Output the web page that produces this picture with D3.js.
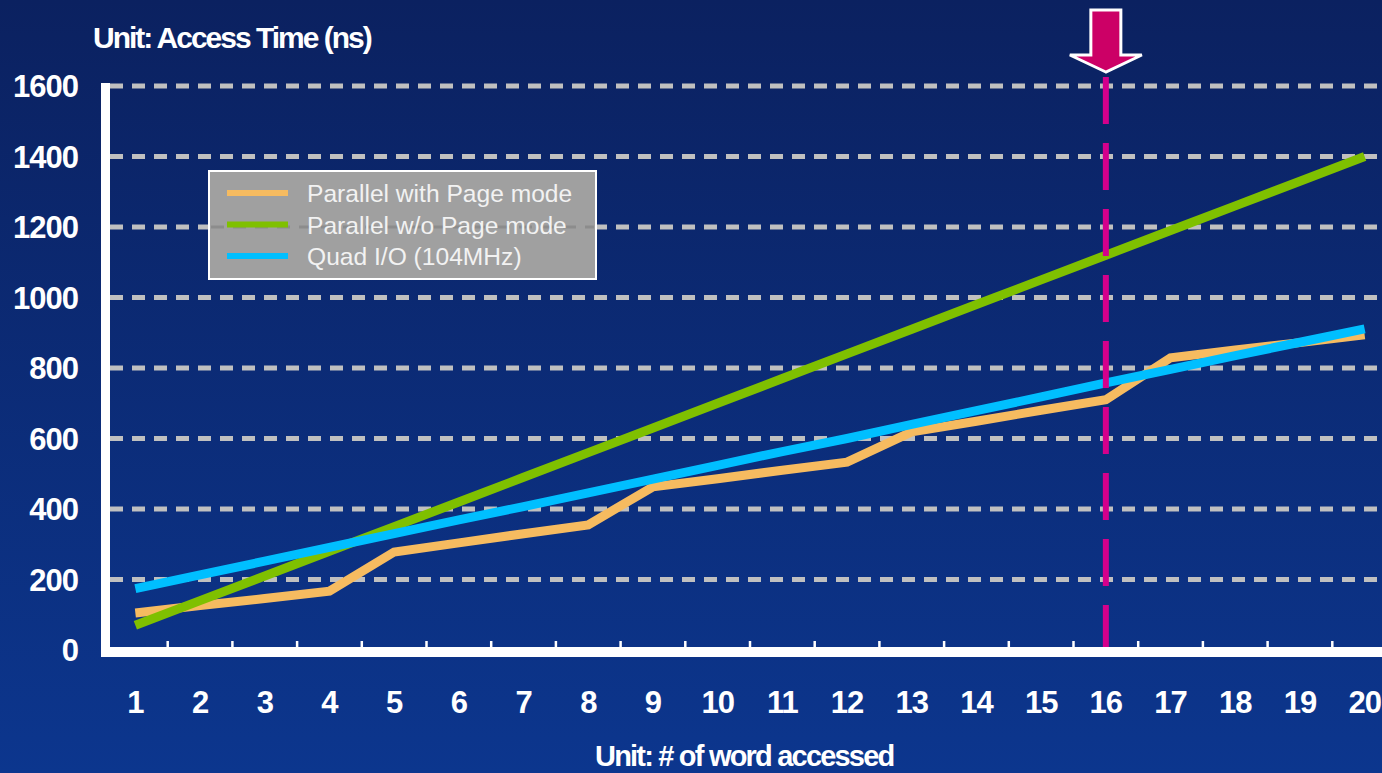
<!DOCTYPE html>
<html>
<head>
<meta charset="utf-8">
<script src="https://cdn.jsdelivr.net/npm/d3@7"></script>
<style>
  html, body { margin: 0; padding: 0; background: #0c2a74; }
  svg { display: block; }
  text { font-family: "Liberation Sans", Arial, sans-serif; }
</style>
</head>
<body>
<script>
// words accessed (x categories)
const categories = [1, 2, 3, 4, 5, 6, 7, 8, 9, 10, 11, 12, 13, 14, 15, 16, 17, 18, 19, 20];
const yTicks = [0, 200, 400, 600, 800, 1000, 1200, 1400, 1600];

// access time in ns
const parallelPage = [105, 126, 146, 167, 278, 304, 330, 355, 463, 486, 510, 533, 619, 649, 680, 710, 829, 851, 872, 894];
const parallelNoPage = [70, 140, 210, 280, 350, 420, 490, 560, 630, 700, 770, 840, 910, 980, 1050, 1120, 1190, 1260, 1330, 1400];
const quadIO = [174, 213, 252, 291, 330, 369, 407, 446, 485, 524, 563, 600, 640, 679, 718, 758, 796, 835, 873, 911];

const seriesNames = ["Parallel with Page mode", "Parallel w/o Page mode", "Quad I/O (104MHz)"];
const seriesColors = ["#f6bb60", "#7fc000", "#00bfff"];
const markedCategory = 16;

const W = 1382, H = 773;

const svg = d3.select(document.body).append('svg')
  .attr('width', W)
  .attr('height', H);

const grad = svg.append('defs').append('linearGradient')
  .attr('id', 'bg')
  .attr('x1', 0).attr('y1', 0).attr('x2', 0).attr('y2', 1);
grad.append('stop').attr('offset', '0%').attr('stop-color', '#0b2160');
grad.append('stop').attr('offset', '100%').attr('stop-color', '#0c368e');

svg.append('rect')
  .attr('width', W).attr('height', H)
  .attr('fill', 'url(#bg)');

const x = d3.scaleBand()
  .domain(categories)
  .range([103, 1397]);

const y = d3.scaleLinear()
  .domain([0, 1600])
  .range([650, 86]);

const cx = d => x(d) + x.bandwidth() / 2;

// dashed horizontal grid
svg.append('g')
  .selectAll('line')
  .data(yTicks.filter(v => v > 0))
  .enter().append('line')
  .attr('x1', 110).attr('x2', W)
  .attr('y1', d => y(d)).attr('y2', d => y(d))
  .attr('stroke', '#c0c0c0')
  .attr('stroke-width', 5)
  .attr('stroke-dasharray', '13,9');

// legend
const legend = svg.append('g').attr('transform', 'translate(209,171)');
legend.append('rect')
  .attr('width', 387).attr('height', 108)
  .attr('fill', '#a0a0a0')
  .attr('stroke', '#ffffff')
  .attr('stroke-width', 2);
legend.append('line')
  .attr('x1', 2).attr('x2', 385)
  .attr('y1', y(1200) - 171).attr('y2', y(1200) - 171)
  .attr('stroke', '#8c8c8c')
  .attr('stroke-width', 3)
  .attr('stroke-dasharray', '13,9');
seriesNames.forEach((name, i) => {
  const ly = 22 + i * 31.5;
  legend.append('line')
    .attr('x1', 18).attr('x2', 79)
    .attr('y1', ly).attr('y2', ly)
    .attr('stroke', seriesColors[i])
    .attr('stroke-width', 6);
  legend.append('text')
    .attr('x', 98).attr('y', ly + 9)
    .attr('fill', '#f2f2f2')
    .attr('font-size', 24.6)
    .text(name);
});

// series lines
const line = d3.line()
  .x((d, i) => cx(categories[i]))
  .y(d => y(d));

[parallelPage, parallelNoPage, quadIO].forEach((vals, i) => {
  svg.append('path')
    .datum(vals)
    .attr('d', line)
    .attr('fill', 'none')
    .attr('stroke', seriesColors[i])
    .attr('stroke-width', 9)
    .attr('stroke-linejoin', 'miter');
});

// marker line at 16 words
const mx = cx(markedCategory);
svg.append('line')
  .attr('x1', mx).attr('x2', mx)
  .attr('y1', 77).attr('y2', 648)
  .attr('stroke', '#d4008c')
  .attr('stroke-width', 6)
  .attr('stroke-dasharray', '47,19');

// arrow above the marker
svg.append('path')
  .attr('d', `M${mx},72 L${mx - 36},55 L${mx - 15},55 L${mx - 15},10 L${mx + 15},10 L${mx + 15},55 L${mx + 36},55 Z`)
  .attr('fill', '#cc0066')
  .attr('stroke', '#ffffff')
  .attr('stroke-width', 3)
  .attr('stroke-linejoin', 'miter');

// axes
svg.append('rect')
  .attr('x', 101).attr('y', 83)
  .attr('width', 9).attr('height', 574)
  .attr('fill', '#ffffff');
svg.append('rect')
  .attr('x', 101).attr('y', 647)
  .attr('width', W - 101).attr('height', 10)
  .attr('fill', '#ffffff');

svg.append('g')
  .selectAll('line')
  .data(categories.slice(0, -1))
  .enter().append('line')
  .attr('x1', d => x(d) + x.bandwidth()).attr('x2', d => x(d) + x.bandwidth())
  .attr('y1', 648).attr('y2', 641)
  .attr('stroke', '#ffffff')
  .attr('stroke-width', 2.5);

svg.append('g')
  .selectAll('text')
  .data(yTicks)
  .enter().append('text')
  .attr('x', 78)
  .attr('y', d => y(d))
  .attr('dy', '0.36em')
  .attr('text-anchor', 'end')
  .attr('fill', '#ffffff')
  .attr('font-size', 31)
  .attr('font-weight', 'bold')
  .attr('letter-spacing', -1)
  .text(d => d);

svg.append('g')
  .selectAll('text')
  .data(categories)
  .enter().append('text')
  .attr('x', d => cx(d))
  .attr('y', 702)
  .attr('dy', '0.36em')
  .attr('text-anchor', 'middle')
  .attr('fill', '#ffffff')
  .attr('font-size', 31)
  .attr('font-weight', 'bold')
  .attr('letter-spacing', -1)
  .text(d => d);

svg.append('text')
  .attr('x', 93).attr('y', 48)
  .attr('fill', '#ffffff')
  .attr('font-size', 30)
  .attr('font-weight', 'bold')
  .attr('letter-spacing', -2)
  .text('Unit: Access Time (ns)');

svg.append('text')
  .attr('x', 595).attr('y', 766)
  .attr('fill', '#ffffff')
  .attr('font-size', 29)
  .attr('font-weight', 'bold')
  .attr('letter-spacing', -1.8)
  .text('Unit: # of word accessed');
</script>
</body>
</html>
